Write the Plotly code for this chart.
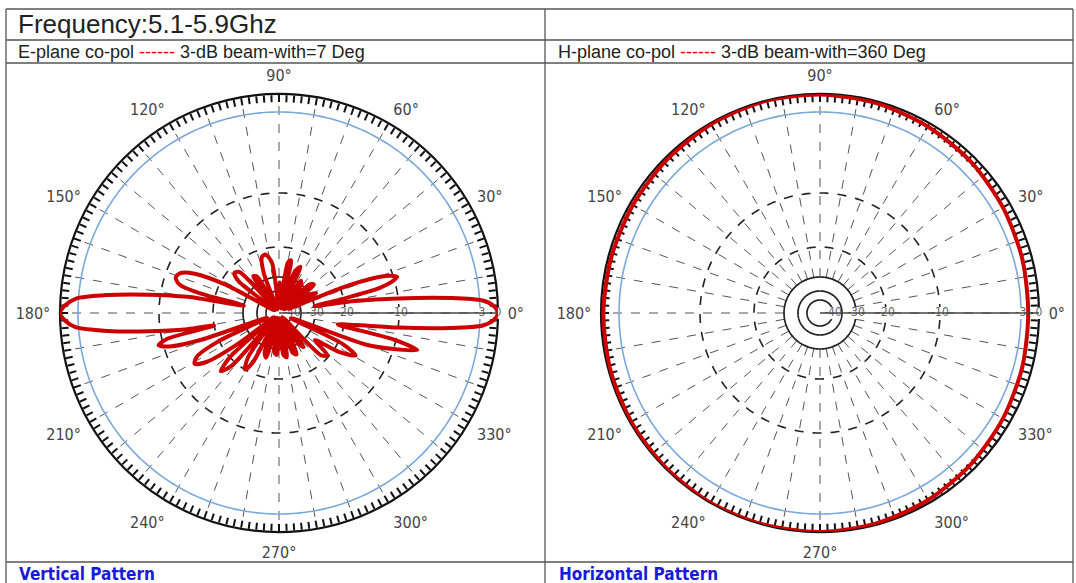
import numpy as np
import plotly.graph_objects as go

W, H = 1076, 583

# ---------------- data ----------------
TITLE = "Frequency:5.1-5.9Ghz"
E_CAPTION = ("E-plane co-pol ", "------", " 3-dB beam-with=7 Deg")
H_CAPTION = ("H-plane co-pol ", "------", " 3-dB beam-with=360 Deg")
E_FOOTER = "Vertical Pattern"
H_FOOTER = "Horizontal Pattern"

# radial scale of the chart (dB -> radius units)
SCALE_DB = [-50, -40, -35, -30, -20, -10, -3, 0]
SCALE_R = [0, 13, 22, 36, 66, 120, 201, 219]
RADIAL_TICKS_DB = [-40, -30, -20, -10, -3, 0]
RADIAL_TICK_TEXT = ["-40", "-30", "-20", "-10", "-3", "0"]
SOLID_RINGS_DB = [-40, -35, -30]
DASHED_RINGS_DB = [-20, -10]
BLUE_RING_DB = -3
ANGLE_LABELS = [0, 30, 60, 90, 120, 150, 180, 210, 240, 270, 300, 330]

# E-plane (vertical) co-pol pattern, degrees / dB
E_THETA = [0, 2, 3.5, 5, 7, 9, 11, 12.5, 14, 15.5, 17, 18.5, 20, 22, 24, 28, 31, 34, 39,
           43, 47, 52, 56, 60, 65, 69, 73, 77, 80, 84, 89, 93, 98, 103, 107, 111, 115,
           121, 125, 129, 134, 138, 142, 147, 152, 155, 158, 161, 164, 166, 168, 170,
           172, 174, 176, 178, 180, 182, 184, 186, 188, 190, 191, 193, 195, 197, 199,
           202, 205, 208, 211, 214, 217, 219, 222, 225, 228, 231, 235, 239, 242, 246,
           250, 254, 258, 263, 267, 271, 276, 280, 284, 289, 293, 297, 302, 306, 310,
           315, 319, 323, 327, 331, 334, 337, 340, 342.5, 345, 347, 349, 351, 353, 355,
           356.5, 358, 360]
E_DB = [0, -0.8, -2.5, -5.5, -10, -18, -30, -20, -13, -10.5, -9.7, -10.5, -13, -20, -42,
        -28, -30, -45, -27, -28, -44, -30, -29, -46, -25, -27, -45, -24, -25, -44, -32,
        -46, -25, -22, -22.5, -28, -47, -28, -27, -44, -23, -22, -25, -46, -22, -15,
        -12.5, -12, -13, -17, -30, -15, -9, -5.5, -2.5, -0.8, 0, -0.8, -2.5, -5.5, -9,
        -15, -20, -11, -9.6, -11, -17, -40, -20, -15, -14, -16, -25, -45, -20, -17, -19,
        -40, -24, -20, -23, -46, -28, -26.5, -44, -29, -28, -46, -28, -27, -45, -28, -27,
        -44, -30, -28, -46, -22, -20.5, -27, -19, -16, -19, -40, -15, -10, -8, -10.5,
        -22, -18, -10, -5.5, -2.5, -0.8, 0]

# H-plane (horizontal) co-pol pattern, degrees / dB
H_THETA = [0, 15, 30, 45, 60, 75, 90, 105, 120, 135, 150, 165, 180, 195, 210, 225, 240,
           255, 270, 285, 300, 315, 330, 345, 360]
H_DB = [-1.8, -1.6, -1.3, -0.9, -0.6, -0.3, -0.1, 0, -0.2, -0.4, -0.5, -0.5, -0.4, -0.3,
        -0.2, -0.1, 0, 0, 0, -0.2, -0.5, -0.9, -1.3, -1.6, -1.8]


def to_r(db):
    return np.interp(np.asarray(db, dtype=float), SCALE_DB, SCALE_R)


R_MAX = SCALE_R[-1]
HOLE_R = float(to_r(-30))
NARROW = "Liberation Sans Narrow, Arial Narrow, DejaVu Sans Condensed, sans-serif"
SANS = "Liberation Sans, Arial, sans-serif"
RED = "#cc0000"

fig = go.Figure()


def px(x):
    return x / W


def py(y):
    return 1 - y / H


def carrier(subplot):
    fig.add_trace(go.Scatterpolar(r=[R_MAX], theta=[0], mode="markers",
                                  marker=dict(size=1, opacity=0), hoverinfo="skip",
                                  showlegend=False, subplot=subplot))


def add_chart(names, cx, theta, db):
    grid_name, comb_name, main_name = names
    full = np.linspace(0, 360, 361)
    carrier(grid_name)
    carrier(comb_name)
    for lvl in SOLID_RINGS_DB:
        fig.add_trace(go.Scatterpolar(r=np.full(full.size, to_r(lvl)), theta=full, mode="lines",
                                      line=dict(color="#222", width=1.7), hoverinfo="skip",
                                      showlegend=False, subplot=main_name))
    for lvl in DASHED_RINGS_DB:
        fig.add_trace(go.Scatterpolar(r=np.full(full.size, to_r(lvl)), theta=full, mode="lines",
                                      line=dict(color="#222", width=1.6, dash="dash"),
                                      hoverinfo="skip", showlegend=False, subplot=main_name))
    fig.add_trace(go.Scatterpolar(r=np.full(full.size, to_r(BLUE_RING_DB)), theta=full,
                                  mode="lines", line=dict(color="#7aa8db", width=1.6),
                                  hoverinfo="skip", showlegend=False, subplot=main_name))
    fig.add_trace(go.Scatterpolar(r=to_r(RADIAL_TICKS_DB), theta=[0] * len(RADIAL_TICKS_DB),
                                  mode="markers+text", text=RADIAL_TICK_TEXT,
                                  textposition="middle center",
                                  marker=dict(symbol="square", size=12, color="white"),
                                  textfont=dict(family=NARROW, size=12, color="#666"),
                                  hoverinfo="skip", showlegend=False, subplot=main_name))
    fig.add_trace(go.Scatterpolar(r=to_r(db), theta=theta, mode="lines",
                                  line=dict(color=RED, width=4, shape="spline", smoothing=0.8),
                                  hoverinfo="skip", showlegend=False, subplot=main_name))

    cy = 313
    dom = dict(x=[px(cx - R_MAX), px(cx + R_MAX)], y=[py(cy + R_MAX), py(cy - R_MAX)])
    fig.update_layout({
        grid_name: dict(
            domain=dom, bgcolor="white", hole=HOLE_R / R_MAX,
            angularaxis=dict(tickvals=list(range(0, 360, 10)),
                             ticktext=[f"{a}°" if a in ANGLE_LABELS else "" for a in range(0, 360, 10)],
                             ticks="outside", ticklen=6, tickcolor="rgba(0,0,0,0)",
                             showgrid=True, gridcolor="#555", gridwidth=1.3, griddash="dash",
                             showline=False,
                             tickfont=dict(family=NARROW, size=16, color="#444")),
            radialaxis=dict(visible=False, range=[HOLE_R, R_MAX]),
        ),
        comb_name: dict(
            domain=dom, bgcolor="rgba(0,0,0,0)",
            angularaxis=dict(tickvals=list(range(0, 360, 2)), ticks="inside", ticklen=7,
                             tickwidth=1.5, tickcolor="#111", showticklabels=False,
                             showgrid=False, showline=True, linecolor="#111", linewidth=2.2),
            radialaxis=dict(visible=False, range=[0, R_MAX]),
        ),
        main_name: dict(
            domain=dom, bgcolor="rgba(0,0,0,0)",
            angularaxis=dict(visible=False),
            radialaxis=dict(range=[0, R_MAX], showgrid=False, showticklabels=False, ticks="",
                            showline=True, linecolor="#444", linewidth=1.6, angle=0),
        ),
    })


add_chart(("polar", "polar2", "polar3"), 279, E_THETA, E_DB)
add_chart(("polar4", "polar5", "polar6"), 820, H_THETA, H_DB)

# table frame
LINE = dict(color="#555", width=1.3)
shapes = []
for y in [9, 40, 63, 562]:
    shapes.append(dict(type="line", xref="paper", yref="paper", x0=px(6), x1=px(1073),
                       y0=py(y), y1=py(y), line=LINE))
for x in [6, 545, 1073]:
    shapes.append(dict(type="line", xref="paper", yref="paper", x0=px(x), x1=px(x),
                       y0=py(9), y1=py(590), line=LINE))

annotations = [
    dict(text=TITLE, x=px(16), y=py(24), xref="paper", yref="paper", xanchor="left",
         yanchor="middle", showarrow=False, font=dict(family=SANS, size=26, color="#222")),
    dict(text=f"{E_CAPTION[0]}<span style='color:#e00000'>{E_CAPTION[1]}</span>{E_CAPTION[2]}",
         x=px(16), y=py(52), xref="paper", yref="paper", xanchor="left", yanchor="middle",
         showarrow=False, font=dict(family=SANS, size=18, color="#222")),
    dict(text=f"{H_CAPTION[0]}<span style='color:#e00000'>{H_CAPTION[1]}</span>{H_CAPTION[2]}",
         x=px(556), y=py(52), xref="paper", yref="paper", xanchor="left", yanchor="middle",
         showarrow=False, font=dict(family=SANS, size=18, color="#222")),
    dict(text=f"<b>{E_FOOTER}</b>", x=px(17), y=py(574), xref="paper", yref="paper",
         xanchor="left", yanchor="middle", showarrow=False,
         font=dict(family=NARROW, size=17, color="#1a1adb")),
    dict(text=f"<b>{H_FOOTER}</b>", x=px(557), y=py(574), xref="paper", yref="paper",
         xanchor="left", yanchor="middle", showarrow=False,
         font=dict(family=NARROW, size=17, color="#1a1adb")),
]

fig.update_layout(width=W, height=H, margin=dict(l=0, r=0, t=0, b=0),
                  paper_bgcolor="white", plot_bgcolor="white",
                  shapes=shapes, annotations=annotations, showlegend=False)

fig.write_html("out.html", config={"displayModeBar": False},
               post_script="document.body.style.margin='0';document.body.style.overflow='hidden';")
